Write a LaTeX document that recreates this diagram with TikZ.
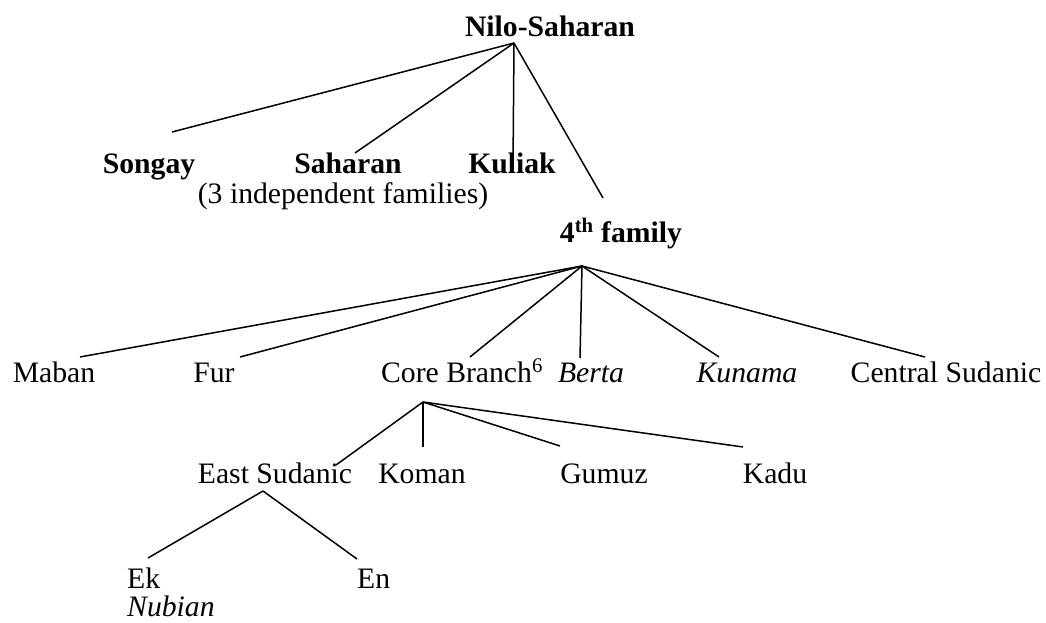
\documentclass[tikz,border=0pt]{standalone}
\usepackage{fontspec}
\setmainfont{Liberation Serif}
\begin{document}
\begin{tikzpicture}[x=1pt,y=-1pt,
    lang/.style={anchor=base,inner sep=0pt,font=\fontsize{29.7}{34}\selectfont},
    family/.style={lang,font=\fontsize{29.7}{34}\selectfont\bfseries},
    branch/.style={line width=1.5pt}]
  \useasboundingbox (0,0) rectangle (1046,623);

  % Nilo-Saharan and its four families
  \node[family] (nilo) at (550,37) {Nilo-Saharan};
  \foreach \name/\x/\txt in {songay/149/Songay,saharan/348/Saharan,kuliak/512/Kuliak} {
    \node[family] (\name) at (\x,173) {\txt};
  }
  \node[lang] (indep) at (343,203) {(3 independent families)};
  \node[family] (fourth) at (621,242) {4\textsuperscript{th} family};

  \coordinate (nilo-fork) at (514,43);
  \foreach \kid/\x/\y in {songay/172/132,saharan/355/153,kuliak/513/167,fourth/603/198} {
    \coordinate (\kid-top) at (\x,\y);
    \draw[branch] (nilo-fork) -- (\kid-top);
  }

  % the 4th family
  \foreach \name/\x/\txt in {maban/54/Maban,fur/214/Fur,core/462/Core Branch\textsuperscript{6},
      berta/591/\textit{Berta},kunama/747/\textit{Kunama},central/946/Central Sudanic} {
    \node[lang] (\name) at (\x,382) {\txt};
  }
  \coordinate (fourth-fork) at (582,266);
  \foreach \kid/\x/\y in {maban/80/357,fur/240/357,core/470/357,berta/580/358,kunama/719/357,central/925/357} {
    \coordinate (\kid-top) at (\x,\y);
    \draw[branch] (fourth-fork) -- (\kid-top);
  }

  % Core Branch
  \foreach \name/\x/\txt in {east/275/East Sudanic,koman/422/Koman,gumuz/604/Gumuz,kadu/775/Kadu} {
    \node[lang] (\name) at (\x,483) {\txt};
  }
  \coordinate (core-fork) at (423,402);
  \foreach \kid/\x/\y in {east/336/465,koman/423/447,gumuz/560/446,kadu/743/447} {
    \coordinate (\kid-top) at (\x,\y);
    \draw[branch] (core-fork) -- (\kid-top);
  }

  % East Sudanic
  \node[lang,anchor=base west] (ek) at (127,588) {Ek};
  \node[lang,anchor=base west] (en) at (357,588) {En};
  \node[lang,anchor=base west,font=\fontsize{29.7}{34}\selectfont\itshape] (nubian) at (127,616) {Nubian};
  \coordinate (east-fork) at (263,491);
  \foreach \kid/\x/\y in {ek/148/558,en/357/559} {
    \coordinate (\kid-top) at (\x,\y);
    \draw[branch] (east-fork) -- (\kid-top);
  }
\end{tikzpicture}
\end{document}
